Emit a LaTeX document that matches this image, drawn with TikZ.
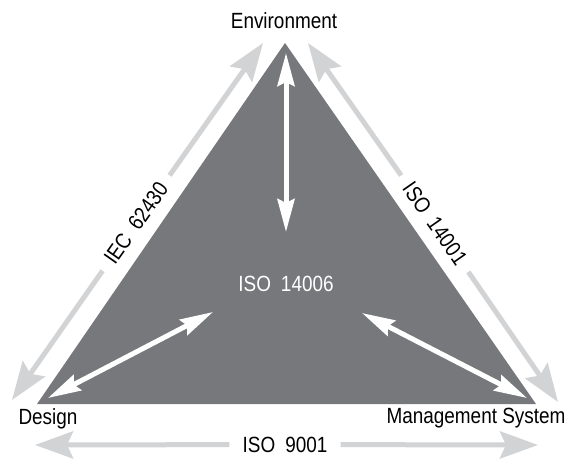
\documentclass[tikz,border=0pt]{standalone}
\usepackage{fontspec}
\setmainfont{Liberation Sans}[FakeStretch=0.86]
\usetikzlibrary{arrows.meta}
\definecolor{tri}{RGB}{119,120,124}
\definecolor{lg}{RGB}{210,211,213}
\newcommand{\wgap}{\hspace{10pt}}
\begin{document}
\begin{tikzpicture}[x=1pt,y=-1pt,
  lab/.style={font=\fontsize{22}{25}\selectfont, inner sep=0pt},
  onlab/.style={lab, inner xsep=11pt, inner ysep=2pt},
  ga/.style={draw=lg, line width=5pt, -{Stealth[length=38pt,width=27pt,inset=6pt]}},
  wa/.style={draw=white, line width=5pt, {Stealth[length=33pt,width=17pt,inset=4pt]}-{Stealth[length=33pt,width=17pt,inset=4pt]}}
]
\useasboundingbox (0,0) rectangle (575,459);
% triangle
\coordinate (A) at (285,43);
\coordinate (B) at (37,404);
\coordinate (C) at (536,404);
\fill[tri] (A) -- (B) -- (C) -- cycle;
% inner white arrows
\coordinate (wt1) at (286,53);
\coordinate (wt2) at (286,232);
\coordinate (wl1) at (48,398);
\coordinate (wl2) at (213,312);
\coordinate (wr1) at (362,313);
\coordinate (wr2) at (527,398);
\draw[wa] (wt1) -- (wt2);
\draw[wa] (wl1) -- (wl2);
\draw[wa] (wr1) -- (wr2);
\node[lab, text=white] (center) at (286,283.5) {ISO\wgap 14006};
% outer labels
\node[lab, anchor=base] (env) at (284,28) {Environment};
\node[lab, anchor=base] (design) at (48,424) {Design};
\node[lab, anchor=base] (mgmt) at (476,423) {Management System};
% outer gray arrows
\coordinate (gl1) at (12,400);
\coordinate (gl2) at (263,43);
\coordinate (gr1) at (308,43);
\coordinate (gr2) at (558,402);
\coordinate (gb1) at (35,445);
\coordinate (gb2) at (538,445);
\node[onlab, rotate=54.9] (iec) at (136,223) {IEC\wgap 62430};
\node[onlab, rotate=-55.1] (iso14001) at (435,223.5) {ISO\wgap 14001};
\node[onlab, inner xsep=13pt] (iso9001) at (285,444.5) {ISO\wgap 9001};
\draw[ga] (iec) -- (gl1);
\draw[ga] (iec) -- (gl2);
\draw[ga] (iso14001) -- (gr1);
\draw[ga] (iso14001) -- (gr2);
\draw[ga] (iso9001) -- (gb1);
\draw[ga] (iso9001) -- (gb2);
\end{tikzpicture}
\end{document}
